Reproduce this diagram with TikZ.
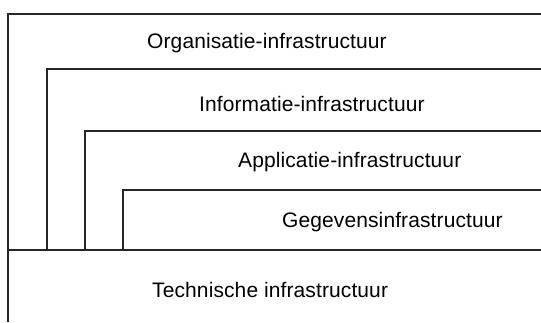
\documentclass[tikz,border=0pt]{standalone}
\usepackage{fontspec}
\setmainfont{Liberation Sans}
\begin{document}
\begin{tikzpicture}[x=1pt,y=-1pt,
  layerline/.style={line width=1.1pt,draw=black!85},
  layerlabel/.style={anchor=base west,inner sep=0pt,font=\fontsize{21}{24}\selectfont\addfontfeature{LetterSpace=0.5}}]
\useasboundingbox (0,0) rectangle (541,322);
% corner points of the nested layers
\coordinate (oTop) at (8,14);   \coordinate (oEnd) at (541,14);
\coordinate (oBot) at (8,322);
\coordinate (iTop) at (47,69);  \coordinate (iEnd) at (541,69);  \coordinate (iFoot) at (47,250);
\coordinate (aTop) at (85,131); \coordinate (aEnd) at (541,131); \coordinate (aFoot) at (85,250);
\coordinate (gTop) at (123,190);\coordinate (gEnd) at (541,190); \coordinate (gFoot) at (123,250);
\coordinate (tLeft) at (8,250); \coordinate (tEnd) at (541,250);
% layer outlines
\draw[layerline] (oBot) -- (oTop) -- (oEnd);
\draw[layerline] (iFoot) -- (iTop) -- (iEnd);
\draw[layerline] (aFoot) -- (aTop) -- (aEnd);
\draw[layerline] (gFoot) -- (gTop) -- (gEnd);
\draw[layerline] (tLeft) -- (tEnd);
% layer names
\node[layerlabel] (org)  at (147,48)  {Organisatie-infrastructuur};
\node[layerlabel] (inf)  at (199,111) {Informatie-infrastructuur};
\node[layerlabel] (app)  at (238,167) {Applicatie-infrastructuur};
\node[layerlabel] (geg)  at (282,227) {Gegevensinfrastructuur};
\node[layerlabel] (tech) at (152,297) {Technische infrastructuur};
\end{tikzpicture}
\end{document}
